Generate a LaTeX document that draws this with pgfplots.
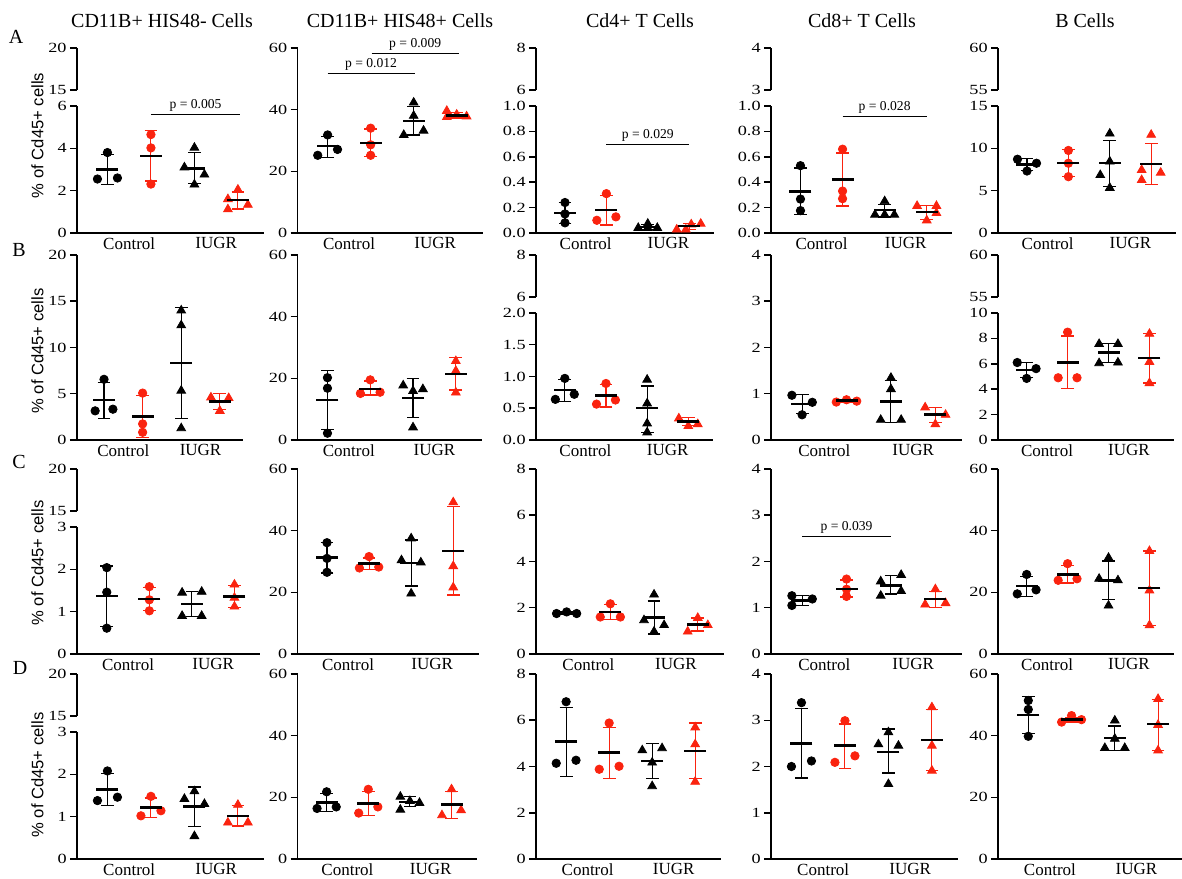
\documentclass[border=0pt]{standalone}
\usepackage{fontspec}
\setmainfont{Liberation Serif}
\newfontfamily\tickfont[FakeStretch=1.3]{Liberation Serif}
\newfontfamily\sansfont{Liberation Sans}
\usepackage{pgfplots}
\pgfplotsset{compat=1.18}
\definecolor{myred}{RGB}{250,35,15}
\pgfplotsset{
  common/.style={
    scale only axis, enlargelimits=false, clip=false,
    axis line style={line width=0.75pt, black},
    tick style={line width=0.75pt, black},
    major tick length=3.5pt, tick align=outside,
    ytick pos=left,
    yticklabel style={font=\tickfont\fontsize{7}{8}\selectfont, inner sep=1.5pt},
    /pgf/number format/assume math mode=true,
    xmin=-0.7, xmax=3.6,
  },
  panel/.style={common, axis x line*=bottom, axis y line*=left,
    x axis line style={line width=1.1pt},
    xtick={0.5,2.5}, xticklabels={Control,IUGR}, xtick style={draw=none},
    xticklabel style={font=\fontsize{8.5}{9}\selectfont, inner sep=0pt, yshift=1.5pt},
    height=92.5pt, ymin=0, anchor=south west},
  lower/.style={panel, height=63.5pt},
  upper/.style={common, axis y line*=left, hide x axis, height=21pt, anchor=south west},
  pts/.style={scatter, only marks, scatter src=explicit symbolic,
    scatter/classes={
      a={mark=*, black, mark size=2.1pt},
      b={mark=*, myred, mark size=2.1pt},
      c={mark=triangle*, black, mark size=2.5pt},
      d={mark=triangle*, myred, mark size=2.5pt}}},
  mb/.style={only marks, mark=-, mark size=5.5pt, mark options={black, line width=1.2pt},
    error bars/.cd, y dir=both, y explicit,
    error bar style={black, line width=0.55pt},
    error mark options={rotate=90, black, mark size=3.2pt, line width=0.65pt}},
  mr/.style={only marks, mark=-, mark size=5.5pt, mark options={black, line width=1.2pt},
    error bars/.cd, y dir=both, y explicit,
    error bar style={myred, line width=0.55pt},
    error mark options={rotate=90, myred, mark size=3.2pt, line width=0.65pt}},
  table/mt/.style={header=false, row sep=\\, y error plus expr={\thisrowno{3}-\thisrowno{1}}, y error minus expr={\thisrowno{1}-\thisrowno{2}}},
  table/pt/.style={header=false, row sep=\\, meta index=2},
}
\newcommand{\pval}[4]{\draw[line width=0.5pt] (axis cs:#1,#3) -- (axis cs:#2,#3) node[midway, above, inner sep=1.5pt, font=\fontsize{6.8}{8}\selectfont] {#4};}
\begin{document}
\begin{tikzpicture}
\useasboundingbox (0,0) rectangle (591pt,439pt);
% titles
\begin{scope}[font=\fontsize{10}{12}\selectfont]
\node at (81pt,428.5pt) {CD11B+ HIS48- Cells};
\node at (200pt,428.5pt) {CD11B+ HIS48+ Cells};
\node at (320pt,428.5pt) {Cd4+ T Cells};
\node at (431pt,428.5pt) {Cd8+ T Cells};
\node at (542.5pt,428.5pt) {B Cells};
\node at (8pt,420.5pt) {A};
\node at (9.5pt,314pt) {B};
\node at (9.5pt,208pt) {C};
\node at (10pt,105pt) {D};
\end{scope}
\begin{scope}[font=\sansfont\fontsize{8.3}{9}\selectfont]
\node[rotate=90] at (18.75pt,371.25pt) {\% of Cd45+ cells};
\node[rotate=90] at (18.75pt,263.5pt) {\% of Cd45+ cells};
\node[rotate=90] at (18.75pt,157.5pt) {\% of Cd45+ cells};
\node[rotate=90] at (18.75pt,51.5pt) {\% of Cd45+ cells};
\end{scope}

%================ ROW A ================
% A1
\begin{axis}[upper, width=93.5pt, at={(38.5pt,394pt)}, ymin=15, ymax=20, ytick={15,20}]
\end{axis}
\begin{axis}[lower, width=93.5pt, at={(38.5pt,322.5pt)}, ymax=6, ytick={0,2,4,6}]
\addplot[pts] table[pt] {-0.23 2.55 a\\ 0 3.80 a\\ 0.23 2.6 a\\ 1 4.65 b\\ 1 4.02 b\\ 1 2.31 b\\ 2 4.03 c\\ 1.77 3.1 c\\ 2.23 2.76 c\\ 2 2.29 c\\ 3 2.05 d\\ 2.77 1.6 d\\ 3.23 1.33 d\\ 2.77 1.12 d\\};
\addplot[mb] table[mt] {0 3.0 2.28 3.72\\ 2 3.05 2.35 3.8\\};
\addplot[mr] table[mt] {1 3.65 2.45 4.85\\ 3 1.55 1.13 1.94\\};
\pval{1.0}{3.05}{5.58}{p = 0.005}
\end{axis}
% A2
\begin{axis}[panel, width=92.5pt, at={(148.75pt,322.5pt)}, ymax=60, ytick={0,20,40,60}]
\addplot[pts] table[pt] {-0.23 25.2 a\\ 0 31.8 a\\ 0.23 27.1 a\\ 1 34.0 b\\ 1 28.6 b\\ 1 25.2 b\\ 2 42.3 c\\ 2 38.0 c\\ 1.77 31.8 c\\ 2.23 33.2 c\\ 2.77 39.6 d\\ 2.77 37.6 d\\ 3 38.4 d\\ 3.23 37.8 d\\};
\addplot[mb] table[mt] {0 28.2 24.5 31.4\\ 2 36.4 31.8 41.0\\};
\addplot[mr] table[mt] {1 29.25 24.9 33.75\\ 3 38.1 37.3 39.1\\};
\pval{0}{2.02}{51.6}{p = 0.012}
\pval{1.02}{3.05}{58.1}{p = 0.009}
\end{axis}
% A3
\begin{axis}[upper, width=89pt, at={(268pt,394pt)}, ymin=6, ymax=8, ytick={6,8}]
\end{axis}
\begin{axis}[lower, width=89pt, at={(268pt,322.5pt)}, ymax=1, ytick={0,0.2,0.4,0.6,0.8,1}, yticklabels={0.0,0.2,0.4,0.6,0.8,1.0}]
\addplot[pts] table[pt] {0 0.24 a\\ 0 0.15 a\\ 0 0.08 a\\ 1 0.31 b\\ 0.77 0.10 b\\ 1.23 0.127 b\\ 2 0.073 c\\ 1.77 0.04 c\\ 2 0.04 c\\ 2.23 0.04 c\\ 3.05 0.068 d\\ 3.28 0.073 d\\ 2.7 0.027 d\\ 2.92 0.027 d\\};
\addplot[mb] table[mt] {0 0.157 0.073 0.24\\ 2 0.046 0.027 0.068\\};
\addplot[mr] table[mt] {1 0.18 0.062 0.295\\ 3 0.054 0.03 0.075\\};
\pval{1}{3}{0.695}{p = 0.029}
\end{axis}
% A4
\begin{axis}[upper, width=90.5pt, at={(385.5pt,394pt)}, ymin=3, ymax=4, ytick={3,4}]
\end{axis}
\begin{axis}[lower, width=90.5pt, at={(385.5pt,322.5pt)}, ymax=1, ytick={0,0.2,0.4,0.6,0.8,1}, yticklabels={0.0,0.2,0.4,0.6,0.8,1.0}]
\addplot[pts] table[pt] {0 0.53 a\\ 0 0.267 a\\ 0 0.176 a\\ 1 0.66 b\\ 1 0.33 b\\ 1 0.27 b\\ 2 0.25 c\\ 1.77 0.144 c\\ 2 0.144 c\\ 2.23 0.144 c\\ 2.77 0.213 d\\ 3.23 0.213 d\\ 3.23 0.157 d\\ 3 0.099 d\\};
\addplot[mb] table[mt] {0 0.328 0.147 0.512\\ 2 0.179 0.125 0.227\\};
\addplot[mr] table[mt] {1 0.42 0.213 0.63\\ 3 0.165 0.107 0.219\\};
\pval{1}{3}{0.917}{p = 0.028}
\end{axis}
% A5
\begin{axis}[upper, width=89pt, at={(499pt,394pt)}, ymin=55, ymax=60, ytick={55,60}]
\end{axis}
\begin{axis}[lower, width=89pt, at={(499pt,322.5pt)}, ymax=15, ytick={0,5,10,15}]
\addplot[pts] table[pt] {-0.23 8.71 a\\ 0 7.32 a\\ 0.23 8.24 a\\ 1 9.75 b\\ 1 8.24 b\\ 1 6.65 b\\ 2 11.74 c\\ 2 8.44 c\\ 1.77 6.84 c\\ 2 5.33 c\\ 3 11.6 d\\ 2.77 7.44 d\\ 2.77 6.25 d\\ 3.23 7.12 d\\};
\addplot[mb] table[mt] {0 8.1 7.36 8.83\\ 2 8.24 5.45 10.94\\};
\addplot[mr] table[mt] {1 8.24 6.65 9.83\\ 3 8.16 5.73 10.54\\};
\end{axis}

%================ ROW B ================
% B1
\begin{axis}[panel, width=83pt, at={(38.5pt,219pt)}, ymax=20, ytick={0,5,10,15,20}]
\addplot[pts] table[pt] {0 6.56 a\\ -0.23 3.15 a\\ 0.23 3.33 a\\ 1 5.07 b\\ 1 1.74 b\\ 1 0.83 b\\ 2 14.0 c\\ 2 12.4 c\\ 2 5.33 c\\ 2 1.27 c\\ 2.77 4.6 d\\ 3.23 4.53 d\\ 3 3.15 d\\};
\addplot[mb] table[mt] {0 4.35 2.36 6.23\\ 2 8.33 2.36 14.3\\};
\addplot[mr] table[mt] {1 2.54 0.29 4.78\\ 3 4.17 3.3 5.0\\};
\end{axis}
% B2
\begin{axis}[panel, width=92pt, at={(148.75pt,219pt)}, ymax=60, ytick={0,20,40,60}]
\addplot[pts] table[pt] {0 20.2 a\\ 0 16.8 a\\ 0 2.2 a\\ 0.77 15.1 b\\ 1 19.5 b\\ 1.23 15.5 b\\ 1.77 17.7 c\\ 2 15.9 c\\ 2.23 16.5 c\\ 2 4.1 c\\ 3 25.6 d\\ 3 22.4 d\\ 3 15.4 d\\};
\addplot[mb] table[mt] {0 13.0 3.46 22.5\\ 2 13.7 7.35 20.0\\};
\addplot[mr] table[mt] {1 16.5 14.6 19.1\\ 3 21.5 16.2 26.7\\};
\end{axis}
% B3
\begin{axis}[upper, width=88.5pt, at={(268pt,290.5pt)}, ymin=6, ymax=8, ytick={6,8}]
\end{axis}
\begin{axis}[lower, width=88.5pt, at={(268pt,219pt)}, ymax=2, ytick={0,0.5,1,1.5,2}, yticklabels={0.0,0.5,1.0,1.5,2.0}]
\addplot[pts] table[pt] {0 0.97 a\\ -0.23 0.64 a\\ 0.23 0.72 a\\ 1 0.89 b\\ 0.77 0.565 b\\ 1.23 0.63 b\\ 2 0.95 c\\ 2 0.576 c\\ 2 0.26 c\\ 2 0.12 c\\ 2.77 0.34 d\\ 3 0.22 d\\ 3.23 0.25 d\\};
\addplot[mb] table[mt] {0 0.785 0.61 0.95\\ 2 0.50 0.12 0.85\\};
\addplot[mr] table[mt] {1 0.70 0.52 0.87\\ 3 0.29 0.225 0.356\\};
\end{axis}
% B4
\begin{axis}[panel, width=95.5pt, at={(385.5pt,219pt)}, ymax=4, ytick={0,1,2,3,4}]
\addplot[pts] table[pt] {-0.23 0.967 a\\ 0.23 0.815 a\\ 0 0.545 a\\ 0.77 0.82 b\\ 1 0.87 b\\ 1.23 0.84 b\\ 2 1.345 c\\ 2 1.1 c\\ 1.77 0.436 c\\ 2.23 0.436 c\\ 2.77 0.705 d\\ 3.23 0.545 d\\ 3 0.34 d\\};
\addplot[mb] table[mt] {0 0.778 0.567 0.98\\ 2 0.836 0.378 1.29\\};
\addplot[mr] table[mt] {1 0.85 0.82 0.87\\ 3 0.55 0.378 0.705\\};
\end{axis}
% B5
\begin{axis}[upper, width=88pt, at={(499pt,290.5pt)}, ymin=55, ymax=60, ytick={55,60}]
\end{axis}
\begin{axis}[lower, width=88pt, at={(499pt,219pt)}, ymax=10, ytick={0,2,4,6,8,10}]
\addplot[pts] table[pt] {-0.23 6.1 a\\ 0 4.85 a\\ 0.23 5.62 a\\ 1 8.49 b\\ 0.77 4.9 b\\ 1.23 4.9 b\\ 1.77 7.56 c\\ 2.23 7.56 c\\ 1.77 6.05 c\\ 2.23 6.1 c\\ 3 8.36 d\\ 3 6.15 d\\ 3 4.48 d\\};
\addplot[mb] table[mt] {0 5.52 4.9 6.1\\ 2 6.9 6.1 7.6\\};
\addplot[mr] table[mt] {1 6.1 4.03 8.2\\ 3 6.45 4.48 8.36\\};
\end{axis}

%================ ROW C ================
% C1
\begin{axis}[upper, width=91.5pt, at={(38.5pt,183.5pt)}, ymin=15, ymax=20, ytick={15,20}]
\end{axis}
\begin{axis}[lower, width=91.5pt, at={(38.5pt,112pt)}, ymax=3, ytick={0,1,2,3}]
\addplot[pts] table[pt] {0 2.04 a\\ 0 1.46 a\\ 0 0.61 a\\ 1 1.59 b\\ 1 1.28 b\\ 1 1.02 b\\ 1.77 1.45 c\\ 2.23 1.47 c\\ 1.77 0.9 c\\ 2.23 0.9 c\\ 3 1.64 d\\ 3 1.33 d\\ 3 1.12 d\\};
\addplot[mb] table[mt] {0 1.37 0.65 2.08\\ 2 1.18 0.88 1.47\\};
\addplot[mr] table[mt] {1 1.30 1.02 1.57\\ 3 1.355 1.10 1.61\\};
\end{axis}
% C2
\begin{axis}[panel, width=90.5pt, at={(148.75pt,112pt)}, ymax=60, ytick={0,20,40,60}]
\addplot[pts] table[pt] {0 36.1 a\\ 0 31.0 a\\ 0 26.5 a\\ 0.77 27.9 b\\ 1 31.6 b\\ 1.23 28.2 b\\ 2 37.5 c\\ 1.77 30.4 c\\ 2.23 29.7 c\\ 2 19.6 c\\ 3 49.2 d\\ 3 28.5 d\\ 3 21.6 d\\};
\addplot[mb] table[mt] {0 31.3 26.3 36.1\\ 2 29.5 22.1 37.0\\};
\addplot[mr] table[mt] {1 29.3 27.4 31.1\\ 3 33.4 19.1 47.8\\};
\end{axis}
% C3
\begin{axis}[panel, width=94pt, at={(268pt,112pt)}, ymax=8, ytick={0,2,4,6,8}]
\addplot[pts] table[pt] {-0.23 1.75 a\\ 0 1.82 a\\ 0.23 1.75 a\\ 1 2.17 b\\ 0.77 1.6 b\\ 1.23 1.6 b\\ 2 2.57 c\\ 1.77 1.46 c\\ 2.23 1.25 c\\ 2 0.97 c\\ 3 1.56 d\\ 2.77 0.97 d\\ 3.23 1.25 d\\};
\addplot[mb] table[mt] {0 1.77 1.72 1.82\\ 2 1.58 0.87 2.29\\};
\addplot[mr] table[mt] {1 1.82 1.49 2.13\\ 3 1.28 0.99 1.56\\};
\end{axis}
% C4
\begin{axis}[panel, width=95.5pt, at={(385.5pt,112pt)}, ymax=4, ytick={0,1,2,3,4}]
\addplot[pts] table[pt] {-0.23 1.26 a\\ -0.23 1.05 a\\ 0.23 1.19 a\\ 1 1.62 b\\ 1 1.40 b\\ 1 1.245 b\\ 1.77 1.57 c\\ 2.23 1.71 c\\ 1.77 1.26 c\\ 2.23 1.36 c\\ 3 1.40 d\\ 2.77 1.07 d\\ 3.23 1.10 d\\};
\addplot[mb] table[mt] {0 1.16 1.05 1.26\\ 2 1.48 1.30 1.69\\};
\addplot[mr] table[mt] {1 1.41 1.23 1.60\\ 3 1.19 1.01 1.35\\};
\pval{0}{2}{2.54}{p = 0.039}
\end{axis}
% C5
\begin{axis}[panel, width=88pt, at={(499pt,112pt)}, ymax=60, ytick={0,20,40,60}]
\addplot[pts] table[pt] {0 25.8 a\\ -0.23 19.5 a\\ 0.23 20.8 a\\ 1 29.3 b\\ 0.77 23.9 b\\ 1.23 24.4 b\\ 2 31.2 c\\ 1.77 24.4 c\\ 2.23 23.9 c\\ 2 15.7 c\\ 3 33.4 d\\ 3 20.6 d\\ 3 9.3 d\\};
\addplot[mb] table[mt] {0 22.1 18.6 25.2\\ 2 23.9 17.6 30.2\\};
\addplot[mr] table[mt] {1 25.8 23.0 28.8\\ 3 21.35 9.3 33.4\\};
\end{axis}

%================ ROW D ================
% D1
\begin{axis}[upper, width=93.5pt, at={(38.5pt,81pt)}, ymin=15, ymax=20, ytick={15,20}]
\end{axis}
\begin{axis}[lower, width=93.5pt, at={(38.5pt,9.5pt)}, ymax=3, ytick={0,1,2,3}]
\addplot[pts] table[pt] {0 2.08 a\\ -0.23 1.38 a\\ 0.23 1.46 a\\ 1 1.48 b\\ 0.77 1.02 b\\ 1.23 1.14 b\\ 2 1.6 c\\ 1.77 1.42 c\\ 2.23 1.30 c\\ 2 0.54 c\\ 3 1.28 d\\ 2.77 0.86 d\\ 3.23 0.86 d\\};
\addplot[mb] table[mt] {0 1.64 1.26 2.02\\ 2 1.24 0.76 1.70\\};
\addplot[mr] table[mt] {1 1.22 0.98 1.44\\ 3 1.02 0.78 1.26\\};
\end{axis}
% D2
\begin{axis}[panel, width=89.5pt, at={(148.75pt,9.5pt)}, ymax=60, ytick={0,20,40,60}]
\addplot[pts] table[pt] {0 21.8 a\\ -0.23 16.4 a\\ 0.23 16.9 a\\ 1 22.6 b\\ 0.77 14.9 b\\ 1.23 16.9 b\\ 1.77 20.2 c\\ 2 18.8 c\\ 2.23 18.2 c\\ 1.77 16.0 c\\ 3 22.6 d\\ 2.77 14.2 d\\ 3.23 15.8 d\\};
\addplot[mb] table[mt] {0 18.3 15.3 21.3\\ 2 18.5 17.1 20.2\\};
\addplot[mr] table[mt] {1 18.0 14.2 22.0\\ 3 17.7 13.1 21.8\\};
\end{axis}
% D3
\begin{axis}[panel, width=92.5pt, at={(268pt,9.5pt)}, ymax=8, ytick={0,2,4,6,8}]
\addplot[pts] table[pt] {0 6.80 a\\ -0.23 4.14 a\\ 0.23 4.27 a\\ 1 5.88 b\\ 0.77 3.88 b\\ 1.23 4.01 b\\ 1.77 4.70 c\\ 2.23 4.79 c\\ 2 4.17 c\\ 2 3.15 c\\ 3 5.69 d\\ 3 4.96 d\\ 3 3.34 d\\};
\addplot[mb] table[mt] {0 5.08 3.56 6.55\\ 2 4.24 3.47 4.99\\};
\addplot[mr] table[mt] {1 4.60 3.47 5.69\\ 3 4.67 3.49 5.88\\};
\end{axis}
% D4
\begin{axis}[panel, width=93.5pt, at={(385.5pt,9.5pt)}, ymax=4, ytick={0,1,2,3,4}]
\addplot[pts] table[pt] {0 3.38 a\\ -0.23 2.0 a\\ 0.23 2.12 a\\ 1 2.99 b\\ 0.77 2.09 b\\ 1.23 2.23 b\\ 2 2.74 c\\ 1.77 2.48 c\\ 2.23 2.45 c\\ 2 1.62 c\\ 3 3.28 d\\ 3 2.45 d\\ 3 1.91 d\\};
\addplot[mb] table[mt] {0 2.50 1.75 3.26\\ 2 2.32 1.86 2.81\\};
\addplot[mr] table[mt] {1 2.45 1.96 2.92\\ 3 2.57 1.91 3.24\\};
\end{axis}
% D5
\begin{axis}[panel, width=93pt, at={(499pt,9.5pt)}, ymax=60, ytick={0,20,40,60}]
\addplot[pts] table[pt] {0 51.4 a\\ 0 48.5 a\\ 0 39.8 a\\ 0.77 44.4 b\\ 1 46.5 b\\ 1.23 45.2 b\\ 2 44.9 c\\ 2 39.0 c\\ 1.77 36.0 c\\ 2.23 36.0 c\\ 3 51.9 d\\ 3 43.5 d\\ 3 35.2 d\\};
\addplot[mb] table[mt] {0 46.75 40.6 52.7\\ 2 39.2 35.2 43.1\\};
\addplot[mr] table[mt] {1 45.2 44.4 45.8\\ 3 43.8 35.2 51.7\\};
\end{axis}
\end{tikzpicture}
\end{document}
